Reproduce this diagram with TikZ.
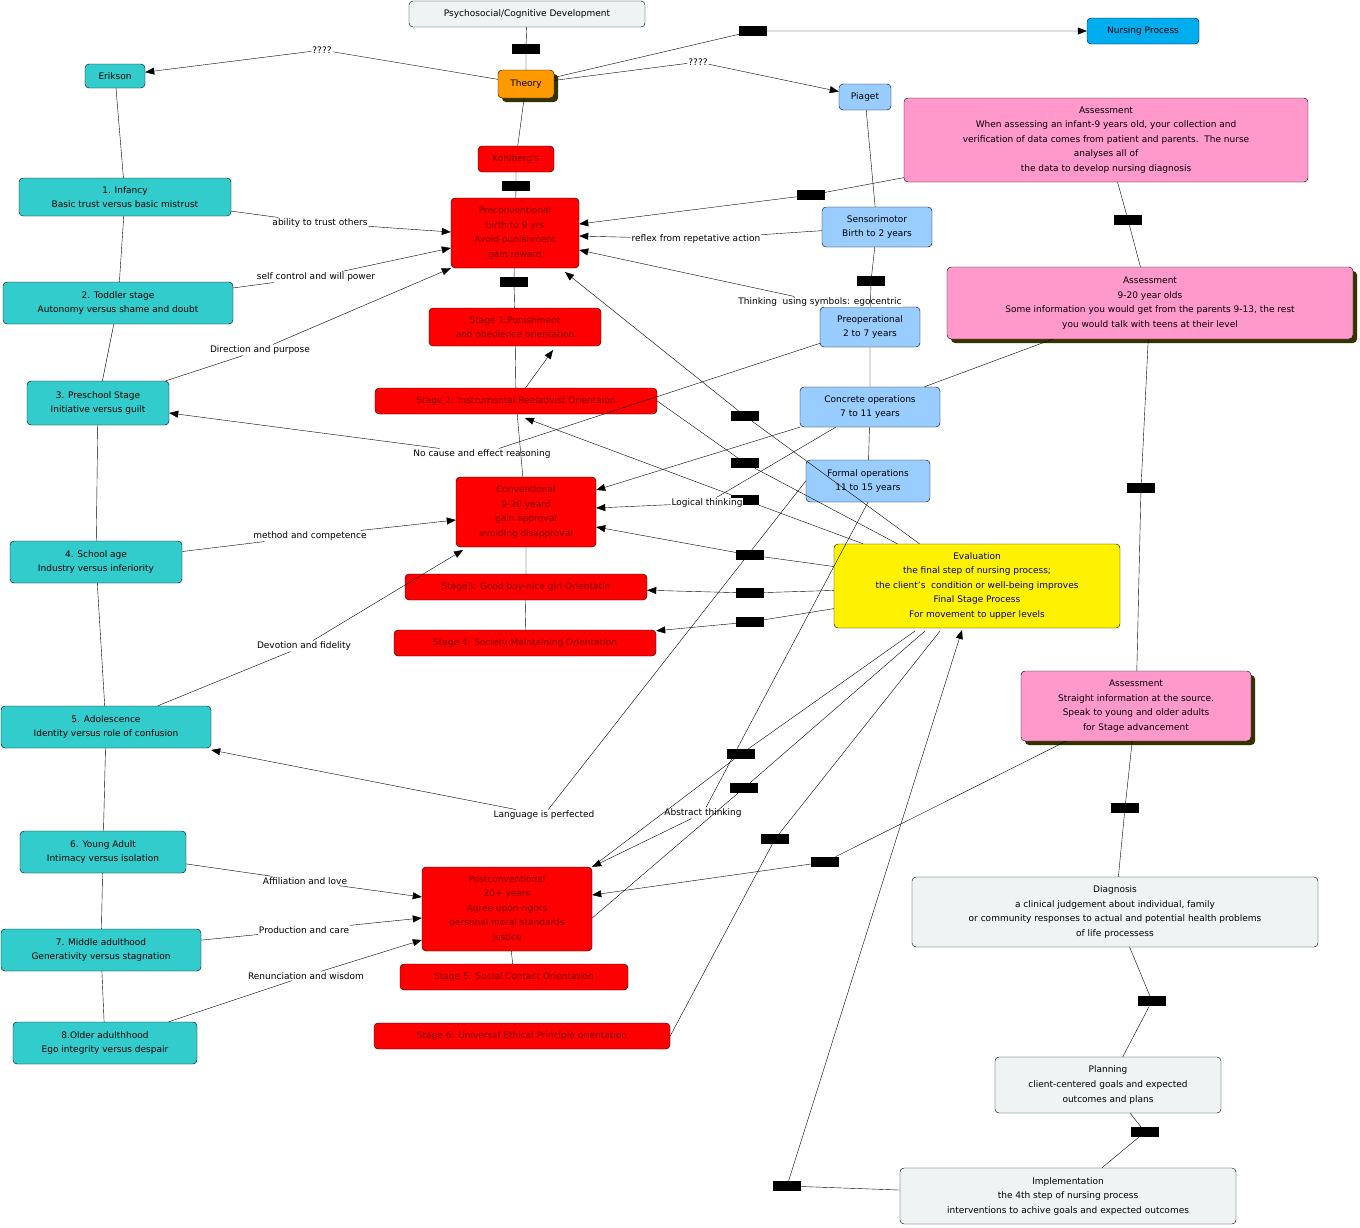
\documentclass[tikz,border=0pt]{standalone}
\usepackage{fontspec}
\setmainfont{DejaVu Sans}
\usetikzlibrary{arrows.meta,shadows}
\definecolor{tealc}{HTML}{33CCCC}
\definecolor{bluec}{HTML}{99CCFF}
\definecolor{pinkc}{HTML}{FF99CC}
\definecolor{lightc}{HTML}{EEF4F4}
\definecolor{orangec}{HTML}{FF9900}
\definecolor{redtxt}{HTML}{7A0000}
\definecolor{shadowc}{HTML}{333300}
\begin{document}
\begin{tikzpicture}[x=1pt,y=-1pt,
		font=\fontsize{9}{14.5}\selectfont,
		box/.style={draw, rounded corners=4pt, align=center, inner sep=1pt},
		teal/.style={box, fill=tealc},
		red/.style={box, fill=red, text=redtxt},
		blue/.style={box, fill=bluec},
		pink/.style={box, fill=pinkc},
		light/.style={box, fill=lightc},
		shad/.style={general shadow={fill=shadowc, shadow xshift=4pt, shadow yshift=-4pt}},
		lnk/.style={fill=black, minimum width=28pt, minimum height=10pt, inner sep=0},
		lbl/.style={fill=white, inner sep=1pt},
		arr/.style={-{Triangle[length=9pt,width=7pt]}}
	]
		\useasboundingbox (0,0) rectangle (1360,1227);
		% nodes
		\node[light, minimum width=236, minimum height=26](psych) at (527,14){Psychosocial/Cognitive Development};
		\node[box, fill=cyan, minimum width=112, minimum height=26](nurs) at (1143,31){Nursing Process};
		\node[box, fill=orangec, shad, minimum width=56, minimum height=28](theory) at (526,84){Theory};
		\node[teal, minimum width=60, minimum height=24](erik) at (115,76){Erikson};
		\node[blue, minimum width=52, minimum height=26](piaget) at (865,97){Piaget};
		\node[red, minimum width=76, minimum height=26](kohl) at (516,159){Kohlberg's};
		\node[pink, minimum width=404, minimum height=84](as1) at (1106,140){Assessment\\When assessing an infant-9 years old, your collection and\\verification of data comes from patient and parents.\ \ The nurse\\analyses all of\\the data to develop nursing diagnosis};
		\node[teal, minimum width=212, minimum height=38](inf) at (125,197){1. Infancy\\Basic trust versus basic mistrust};
		\node[red, minimum width=128, minimum height=70](precon) at (515,233){Preconventional\\birth to 9 yrs\\Avoid punishment\\gain reward};
		\node[blue, minimum width=110, minimum height=40](sens) at (877,227){Sensorimotor\\Birth to 2 years};
		\node[pink, shad, minimum width=406, minimum height=72](as2) at (1150,303){Assessment\\9-20 year olds\\Some information you would get from the parents 9-13, the rest\\you would talk with teens at their level};
		\node[teal, minimum width=230, minimum height=42](todd) at (118,303){2. Toddler stage\\Autonomy versus shame and doubt};
		\node[red, minimum width=172, minimum height=38](st1) at (515,327){Stage 1:Punishment\\and obedience orientation};
		\node[blue, minimum width=100, minimum height=40](preop) at (870,327){Preoperational\\2 to 7 years};
		\node[teal, minimum width=142, minimum height=44](presch) at (98,403){3. Preschool Stage\\Initiative versus guilt};
		\node[red, minimum width=282, minimum height=26](st2) at (516,401){Stage 2: Instrumental Reelativist Orientaion};
		\node[blue, minimum width=140, minimum height=40](conc) at (870,407){Concrete operations\\7 to 11 years};
		\node[blue, minimum width=124, minimum height=42](form) at (868,481){Formal operations\\11 to 15 years};
		\node[red, minimum width=140, minimum height=70](conv) at (526,512){Conventional\\9-20 yeard\\gain approval\\avoiding disapproval};
		\node[teal, minimum width=172, minimum height=42](school) at (96,562){4. School age\\Industry versus inferiority};
		\node[red, minimum width=242, minimum height=26](st3) at (526,587){Stage3: Good boy-nice girl Orientatin};
		\node[box, fill=yellow, text=blue!50!black, minimum width=286, minimum height=84](eval) at (977,586){Evaluation\\the final step of nursing process;\\the client's\ \ condition or well-being improves\\Final Stage Process\\For movement to upper levels};
		\node[red, minimum width=262, minimum height=26](st4) at (525,643){Stage 4: Society-Maintaining Orientation};
		\node[teal, minimum width=210, minimum height=42](adol) at (106,727){5. Adolescence\\Identity versus role of confusion};
		\node[pink, shad, minimum width=230, minimum height=70](as3) at (1136,706){Assessment\\Straight information at the source.\\Speak to young and older adults\\for Stage advancement};
		\node[teal, minimum width=166, minimum height=42](young) at (103,852){6. Young Adult\\Intimacy versus isolation};
		\node[red, minimum width=170, minimum height=84](postc) at (507,909){Postconventional\\20+ years\\Agree upon rights\\personal moral standards\\justice};
		\node[light, minimum width=406, minimum height=70](diag) at (1115,912){Diagnosis\\a clinical judgement about individual, family\\or community responses to actual and potential health problems\\of life processess};
		\node[teal, minimum width=200, minimum height=42](mid) at (101,950){7. Middle adulthood\\Generativity versus stagnation};
		\node[red, minimum width=228, minimum height=26](st5) at (514,977){Stage 5: Social Contact Orientation};
		\node[teal, minimum width=184, minimum height=42](old) at (105,1043){8.Older adulthhood\\Ego integrity versus despair};
		\node[red, minimum width=296, minimum height=26](st6) at (522,1036){Stage 6: Universal Ethical Principle orientation};
		\node[light, minimum width=226, minimum height=56](plan) at (1108,1085){Planning\\client-centered goals and expected\\outcomes and plans};
		\node[light, minimum width=336, minimum height=56](impl) at (1068,1196){Implementation\\the 4th step of nursing process\\interventions to achive goals and expected outcomes};
		% linking boxes
		\node[lnk](k1) at (526,49){};
		\node[lnk](k2) at (753,31){};
		\node[lnk](k3) at (516,186){};
		\node[lnk](k4) at (811,195){};
		\node[lnk](k5) at (514,282){};
		\node[lnk](k6) at (871,281){};
		\node[lnk](k7) at (1128,220){};
		\node[lnk](k8) at (745,416){};
		\node[lnk](k9) at (745,463){};
		\node[lnk](k10) at (745,500){};
		\node[lnk](k11) at (750,555){};
		\node[lnk](k12) at (750,593){};
		\node[lnk](k13) at (750,622){};
		\node[lnk](k14) at (741,754){};
		\node[lnk](k15) at (744,788){};
		\node[lnk](k16) at (775,839){};
		\node[lnk](k17) at (825,862){};
		\node[lnk](k18) at (1141,488){};
		\node[lnk](k19) at (1125,808){};
		\node[lnk](k20) at (1152,1001){};
		\node[lnk](k21) at (1145,1132){};
		\node[lnk](k22) at (787,1186){};
		% text labels
		\node[lbl](q1) at (322,50){????};
		\node[lbl](q2) at (698,62){????};
		\node[lbl](t1) at (320,223){ability to trust others};
		\node[lbl](t2) at (316,277){self control and will power};
		\node[lbl](t3) at (260,350){Direction and purpose};
		\node[lbl](t4) at (696,239){reflex from repetative action};
		\node[lbl](t5) at (820,302){Thinking\ \ using symbols: egocentric};
		\node[lbl](t6) at (482,454){No cause and effect reasoning};
		\node[lbl](t7) at (707,503){Logical thinking};
		\node[lbl](t8) at (310,536){method and competence};
		\node[lbl](t9) at (304,646){Devotion and fidelity};
		\node[lbl](t10) at (544,815){Language is perfected};
		\node[lbl](t11) at (703,813){Abstract thinking};
		\node[lbl](t12) at (305,881){Affiliation and love};
		\node[lbl](t13) at (304,930){Production and care};
		\node[lbl](t14) at (306,976){Renunciation and wisdom};
		% connectors
		\begin{scope}[on background layer/.style={}]
		\draw (psych) -- (k1) -- (theory);
		\draw[arr] (theory) -- (k2) -- (nurs);
		\draw (theory) -- (q1); \draw[arr] (q1) -- (erik);
		\draw (theory) -- (q2); \draw[arr] (q2) -- (piaget);
		\draw (theory) -- (kohl);
		\draw (kohl) -- (k3) -- (precon);
		\draw (erik) -- (inf) -- (todd) -- (presch) -- (school) -- (adol) -- (young) -- (mid) -- (old);
		\draw (inf) -- (t1); \draw[arr] (t1) -- (precon.west|-0,232);
		\draw (todd) -- (t2); \draw[arr] (t2) -- (precon.west|-0,248);
		\draw (presch) -- (t3); \draw[arr] (t3) -- (precon.south west);
		\draw (piaget) -- (sens);
		\draw (sens) -- (t4); \draw[arr] (t4) -- (precon.east|-0,236);
		\draw (sens) -- (k6) -- (preop);
		\draw[arr] (t5) -- (precon.east|-0,250);
		\draw (preop) -- (t6); \draw[arr] (t6) -- (presch.east|-0,413);
		\draw (preop) -- (conc) -- (form);
		\draw (conc) -- (as2);
		\draw (as1) -- (k7) -- (as2);
		\draw (as1) -- (k4); \draw[arr] (k4) -- (precon.east|-0,224);
		\draw (as2) -- (k18) -- (as3);
		\draw (as3) -- (k19) -- (diag);
		\draw (as3) -- (k17); \draw[arr] (k17) -- (postc.east|-0,895);
		\draw (diag) -- (k20) -- (plan) -- (k21) -- (impl);
		\draw (impl) -- (k22); \draw[arr] (k22) -- (962,630);
		\draw[arr] (conc.south west) -- (conv.east|-0,490);
		\draw (conc) -- (t7); \draw[arr] (t7) -- (conv.east|-0,508);
		\draw (form.south) -- (t11); \draw[arr] (t11) -- (postc.north east);
		\draw (form.west) -- (t10); \draw[arr] (t10) -- (adol.east|-0,750);
		\draw (eval) -- (k8); \draw[arr] (k8) -- (565,272);
		\draw (eval) -- (k9) -- (st2.east);
		\draw (eval) -- (k10); \draw[arr] (k10) -- (525,418);
		\draw (eval) -- (k11); \draw[arr] (k11) -- (conv.east|-0,527);
		\draw (eval) -- (k12); \draw[arr] (k12) -- (st3);
		\draw (eval) -- (k13); \draw[arr] (k13) -- (st4);
		\draw (915,631) -- (k14) -- (postc.north east);
		\draw (925,631) -- (k15) -- (postc.east|-0,918);
		\draw (940,631) -- (k16) -- (st6.east);
		\draw (precon) -- (k5) -- (st1) -- (st2) -- (conv) -- (st3) -- (st4);
		\draw[arr] (st2) -- (553,350);
		\draw (school) -- (t8); \draw[arr] (t8) -- (conv.west|-0,520);
		\draw (adol) -- (t9); \draw[arr] (t9) -- (463,550);
		\draw (young) -- (t12); \draw[arr] (t12) -- (postc.west|-0,897);
		\draw (mid) -- (t13); \draw[arr] (t13) -- (postc.west|-0,918);
		\draw (old) -- (t14); \draw[arr] (t14) -- (postc.west|-0,940);
		\draw (postc) -- (st5);
		\end{scope}
	\end{tikzpicture}
\end{document}
